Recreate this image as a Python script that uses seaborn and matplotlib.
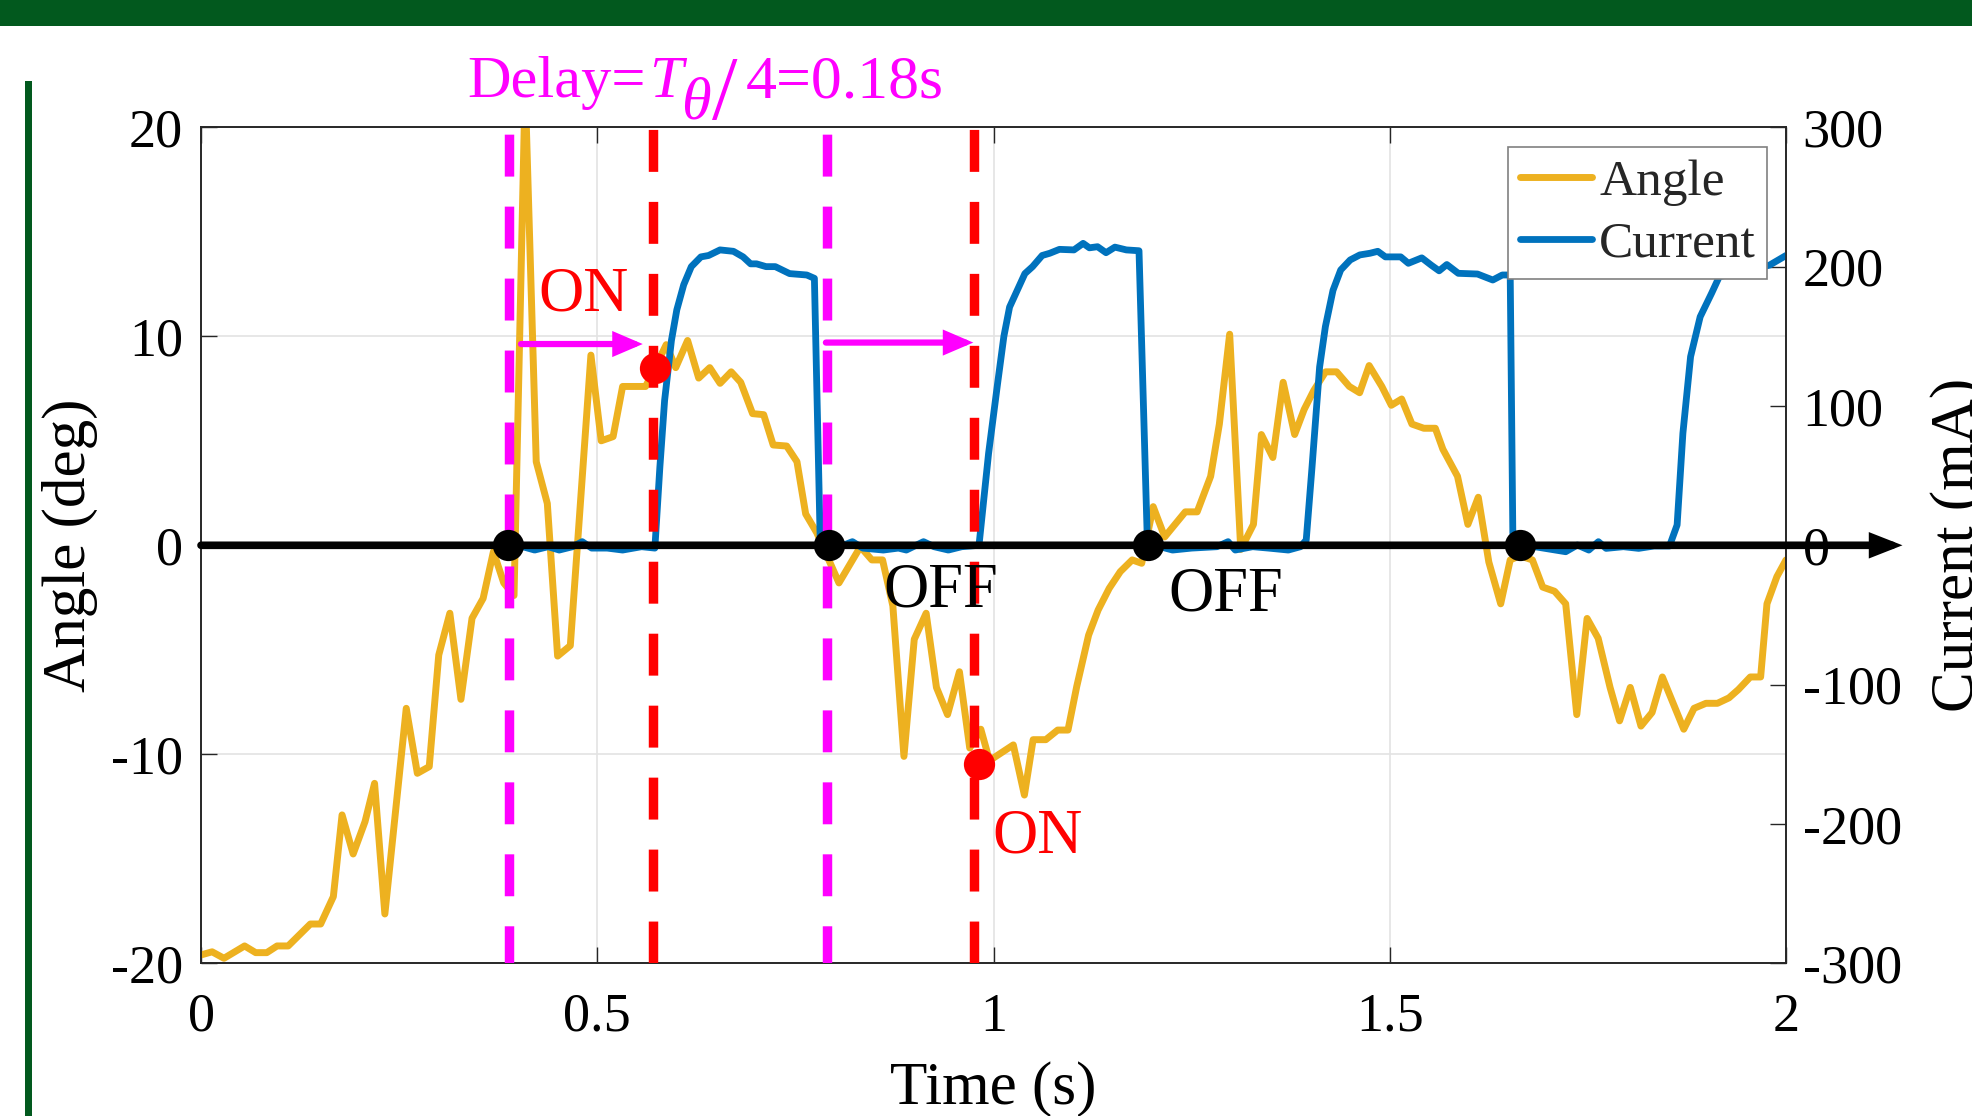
import matplotlib
matplotlib.use("Agg")
import matplotlib.pyplot as plt
import seaborn as sns
import pandas as pd
from matplotlib.patches import Rectangle
from matplotlib.ticker import FormatStrFormatter

# ---------------- data ----------------
angle_t = [0.000, 0.014, 0.029, 0.055, 0.069, 0.083, 0.096, 0.110, 0.138, 0.151,
           0.167, 0.178, 0.192, 0.207, 0.219, 0.232, 0.259, 0.273, 0.288, 0.300,
           0.314, 0.328, 0.342, 0.356, 0.369, 0.382, 0.395, 0.409, 0.423, 0.437,
           0.450, 0.466, 0.492, 0.505, 0.520, 0.532, 0.561, 0.573, 0.587, 0.599,
           0.614, 0.628, 0.642, 0.655, 0.669, 0.681, 0.696, 0.710, 0.722, 0.739,
           0.752, 0.763, 0.777, 0.805, 0.832, 0.8465, 0.860, 0.873, 0.887, 0.900,
           0.915, 0.928, 0.942, 0.957, 0.970, 0.984, 0.995, 1.025, 1.039, 1.050,
           1.066, 1.081, 1.094, 1.105, 1.120, 1.132, 1.146, 1.160, 1.175, 1.187,
           1.2015, 1.216, 1.242, 1.257, 1.274, 1.285, 1.298, 1.312, 1.328, 1.338,
           1.3525, 1.3655, 1.380, 1.392, 1.404, 1.419, 1.433, 1.449, 1.462, 1.474,
           1.490, 1.502, 1.515, 1.528, 1.543, 1.5575, 1.567, 1.5855, 1.5986, 1.6117,
           1.625, 1.640, 1.652, 1.664, 1.680, 1.693, 1.708, 1.722, 1.736, 1.749,
           1.763, 1.778, 1.790, 1.8035, 1.817, 1.831, 1.844, 1.858, 1.871, 1.884,
           1.899, 1.9135, 1.928, 1.940, 1.955, 1.968, 1.976, 1.9885, 2.000]
angle_deg = [-19.6, -19.45, -19.76, -19.17, -19.49, -19.49, -19.17, -19.17, -18.12, -18.12,
             -16.81, -12.9, -14.77, -13.22, -11.39, -17.64, -7.8, -10.91, -10.59, -5.25,
             -3.25, -7.37, -3.49, -2.54, -0.3, -1.8, -2.4, 22.0, 4.0, 2.0,
             -5.3, -4.8, 9.1, 5.0, 5.2, 7.6, 7.6, 8.5, 9.6, 8.5,
             9.8, 8.0, 8.5, 7.75, 8.3, 7.8, 6.3, 6.25, 4.8, 4.75,
             4.0, 1.5, 0.6, -1.8, -0.07, -0.7, -0.7, -2.9, -10.1, -4.5,
             -3.25, -6.8, -8.1, -6.05, -9.7, -8.8, -10.3, -9.55, -11.95, -9.3,
             -9.3, -8.84, -8.84, -6.76, -4.3, -3.1, -2.06, -1.26, -0.7, -0.86,
             1.85, 0.4, 1.6, 1.6, 3.3, 5.8, 10.1, -0.2, 1.0, 5.3,
             4.2, 7.8, 5.3, 6.5, 7.4, 8.3, 8.3, 7.6, 7.3, 8.6,
             7.6, 6.7, 7.0, 5.8, 5.6, 5.6, 4.6, 3.3, 1.0, 2.3,
             -0.8, -2.8, -0.7, -0.5, -0.7, -2.0, -2.2, -2.8, -8.1, -3.5,
             -4.45, -6.8, -8.4, -6.8, -8.65, -8.0, -6.3, -7.6, -8.8, -7.8,
             -7.56, -7.56, -7.3, -6.9, -6.3, -6.3, -2.8, -1.5, -0.7]

current_t = [0.394, 0.406, 0.421, 0.438, 0.452, 0.469, 0.481, 0.493, 0.5125, 0.532,
             0.556, 0.5727, 0.579, 0.585, 0.5936, 0.6004, 0.6091, 0.6187, 0.6308, 0.6405,
             0.6549, 0.6718, 0.684, 0.6935, 0.701, 0.713, 0.7247, 0.7427, 0.7644, 0.774,
             0.7813, 0.790, 0.806, 0.822, 0.835, 0.861, 0.880, 0.890, 0.9117, 0.925,
             0.943, 0.960, 0.9817, 0.9938, 1.0049, 1.0131, 1.0203, 1.0396, 1.0493, 1.0614,
             1.071, 1.0832, 1.1015, 1.1131, 1.121, 1.1313, 1.142, 1.1532, 1.1676, 1.1836,
             1.1942, 1.210, 1.226, 1.250, 1.282, 1.296, 1.305, 1.327, 1.347, 1.372,
             1.3874, 1.3946, 1.4019, 1.4115, 1.4188, 1.4284, 1.4381, 1.4501, 1.4622, 1.4751,
             1.4849, 1.4945, 1.5138, 1.5235, 1.5404, 1.5525, 1.5623, 1.572, 1.5865, 1.6107,
             1.630, 1.642, 1.652, 1.6553, 1.664, 1.683, 1.722, 1.7367, 1.7512, 1.7633,
             1.773, 1.7948, 1.8141, 1.8335, 1.853, 1.8626, 1.8699, 1.8796, 1.8917, 1.9062,
             1.9158, 1.979, 2.000]
current_ma = [-1, -1, -3.4, -1, -3.4, -1, 2.6, -2, -2, -3.4,
              -1, -2, 56, 104, 147, 169, 187, 200, 207, 208,
              212, 211, 207, 202, 202, 200, 200, 195, 194, 191.6,
              3.8, 0, -1, 2.6, -2, -3.4, -2, -3.4, 2.6, -1,
              -3.4, -1, 0, 66, 115, 150, 171, 195, 200, 208,
              209.6, 212.4, 212, 216.7, 213.5, 214.3, 210, 214, 212, 211.4,
              1.4, -1, -3.4, -2, -1, 2.6, -3.4, -1, -2, -3.4,
              -1, 3.8, 56, 128, 157, 183, 197.6, 204.8, 208.4, 209.6,
              211, 207, 207, 202.4, 206.3, 201, 197, 201.5, 195.2, 194.7,
              190.4, 194, 194, 8.6, 0, -1, -4.6, 0.2, -3.4, 2.6,
              -2.2, -1, -2.2, -0.5, -0.5, 14.6, 80.4, 135.4, 164, 181,
              192.8, 201, 208]

off_t = [0.3874, 0.7924, 1.1952, 1.664]          # black dots on the zero line
on_t = [0.5729, 0.9817]                         # red dots on the angle curve
on_deg = [8.47, -10.46]
delay_start_t = [0.3881, 0.7893]                # magenta dashed lines
delay_end_t = [0.5705, 0.9752]                  # red dashed lines
arrow_start_t = [0.4038, 0.7885]
arrow_end_t = [0.5574, 0.9745]
arrow_deg = [9.63, 9.70]

note_text = ["ON", "OFF", "OFF", "ON"]
note_t = [0.4828, 0.9334, 1.2927, 1.0554]
note_deg = [11.22, -2.94, -3.10, -14.69]
note_color = ["#FF0000", "black", "black", "#FF0000"]

xticks = [0, 0.5, 1, 1.5, 2]
angle_ticks = [-20, -10, 0, 10, 20]
current_ticks = [-300, -200, -100, 0, 100, 200, 300]

# ---------------- style ----------------
sns.set_theme(style="white")
plt.rcParams["font.family"] = ["Liberation Serif", "DejaVu Serif"]
plt.rcParams["mathtext.fontset"] = "custom"
plt.rcParams["mathtext.rm"] = "Liberation Serif"
plt.rcParams["mathtext.it"] = "Liberation Serif:italic"
plt.rcParams["mathtext.bf"] = "Liberation Serif:bold"
plt.rcParams["axes.unicode_minus"] = False

YELLOW = "#EDB120"
BLUE = "#0072BD"
MAGENTA = "#FF00FF"
RED = "#FF0000"
AXCOL = "#262626"

W, H = 1972, 1116
fig = plt.figure(figsize=(W / 100, H / 100), dpi=100)
fig.patch.set_facecolor("white")

# decorative green bars
fig.patches.append(Rectangle((0, 1 - 26 / H), 1, 26 / H, transform=fig.transFigure,
                             facecolor="#02591E", edgecolor="none", zorder=0))
fig.patches.append(Rectangle((24.5 / W, 0), 7.5 / W, (H - 81) / H, transform=fig.transFigure,
                             facecolor="#02591E", edgecolor="none", zorder=0))

ax_l, ax_r, ax_t, ax_b = 201, 1786, 127.3, 963.3
ax = fig.add_axes([ax_l / W, 1 - ax_b / H, (ax_r - ax_l) / W, (ax_b - ax_t) / H])
ax2 = ax.twinx()

df_a = pd.DataFrame({"t": angle_t, "v": angle_deg})
df_c = pd.DataFrame({"t": current_t, "v": current_ma})

sns.lineplot(data=df_a, x="t", y="v", ax=ax, color=YELLOW, lw=5.0, estimator=None,
             sort=False, legend=False)
angle_line = ax.lines[-1]
sns.lineplot(data=df_c, x="t", y="v", ax=ax2, color=BLUE, lw=4.9, estimator=None,
             sort=False, legend=False)
current_line = ax2.lines[-1]

ax.set_xlim(0, 2)
ax.set_ylim(-20, 20)
ax2.set_ylim(-300, 300)

# grid (from the left axis)
ax.grid(True, color="#E3E3E3", lw=1.2)
ax.set_axisbelow(True)

# ticks
ax.set_xticks(xticks)
ax.set_yticks(angle_ticks)
ax2.set_yticks(current_ticks)
ax.xaxis.set_major_formatter(FormatStrFormatter("%g"))
ax.yaxis.set_major_formatter(FormatStrFormatter("%g"))
ax2.yaxis.set_major_formatter(FormatStrFormatter("%g"))
ax.xaxis.set_ticks_position("both")
ax.yaxis.set_ticks_position("left")
ax.tick_params(axis="x", direction="in", length=11.5, width=1.0, color=AXCOL,
               labelsize=39, labelcolor="black", pad=21)
ax.tick_params(axis="y", direction="in", length=11.5, width=1.0, color=AXCOL,
               labelsize=39, labelcolor="black", pad=13)
ax2.tick_params(axis="y", direction="in", length=11.5, width=1.0, color=AXCOL,
                labelsize=39, labelcolor="black", pad=12)
for a in (ax, ax2):
    for s in a.spines.values():
        s.set_color(AXCOL)
        s.set_linewidth(1.2)

ax.set_xlabel("Time (s)", fontsize=44, color="black")
ax.set_ylabel("Angle (deg)", fontsize=44, color="black")
ax2.set_ylabel("Current (mA)", fontsize=44, color="black")
ax.xaxis.set_label_coords(0.5, (ax_b - 1061) / (ax_b - ax_t))
ax.yaxis.set_label_coords((97.5 - ax_l) / (ax_r - ax_l), 0.5)
ax2.yaxis.set_label_coords((1930 - ax_l) / (ax_r - ax_l), 0.5)

# delay marker lines (drawn on the top axes, in angle coordinates)
for x in delay_start_t:
    ax2.axvline(x, color=MAGENTA, lw=6.8, ls=(0.5, (4.44, 3.18)), zorder=3)
for x in delay_end_t:
    ax2.axvline(x, color=RED, lw=6.8, ls=(0, (4.44, 3.18)), zorder=3)

# delay arrows
for xs, xe, yd in zip(arrow_start_t, arrow_end_t, arrow_deg):
    ax2.annotate("", xy=(xe, yd), xytext=(xs, yd), xycoords=ax.transData,
                 textcoords=ax.transData,
                 arrowprops=dict(arrowstyle="-|>,head_length=14,head_width=6",
                                 mutation_scale=1, color=MAGENTA, lw=4.5,
                                 shrinkA=0, shrinkB=0, joinstyle="miter"),
                 zorder=4)

# zero axis arrow
ax2.annotate("", xy=(2.147, 0), xytext=(0, 0), xycoords=ax.transData,
             textcoords=ax.transData, annotation_clip=False,
             arrowprops=dict(arrowstyle="-|>,head_length=14,head_width=5.5",
                             mutation_scale=1, color="black", lw=5.5,
                             shrinkA=0, shrinkB=0, joinstyle="miter"),
             zorder=5)

# switching points
ax2.plot(off_t, [0] * len(off_t), "o", color="black", ms=22.5, mew=0, zorder=6,
         transform=ax.transData)
ax2.plot(on_t, on_deg, "o", color=RED, ms=22.5, mew=0, zorder=6,
         transform=ax.transData)

for txt, x, y, c in zip(note_text, note_t, note_deg, note_color):
    ax2.text(x, y, txt, color=c, fontsize=45, ha="center", va="baseline",
             transform=ax.transData, zorder=7)

# title "Delay=T_theta/4=0.18s" assembled from pieces (MATLAB TeX look)
title_pieces = [("Delay=", 467, 97.3, 43.5, "normal"),
                ("T", 649, 97.3, 43.5, "italic"),
                ("\u03b8", 681, 118.5, 43.5, "italic"),
                ("/", 712, 118.5, 66, "normal"),
                ("4=0.18s", 746, 97.3, 44.5, "normal")]
for txt, px, py, fs, st in title_pieces:
    fig.text(px / W, 1 - py / H, txt, color=MAGENTA, fontsize=fs, style=st,
             ha="left", va="baseline")

leg = ax2.legend([angle_line, current_line], ["Angle", "Current"], loc="upper right",
                 bbox_to_anchor=(0.9882, 0.9761), borderaxespad=0, fontsize=37,
                 frameon=True, fancybox=False, edgecolor="#808080", framealpha=1,
                 handlelength=1.4, handletextpad=0.15, borderpad=0.22,
                 labelspacing=0.3)
leg.get_frame().set_linewidth(1.2)
leg.set_zorder(10)

fig.savefig("out.png", dpi=100)
